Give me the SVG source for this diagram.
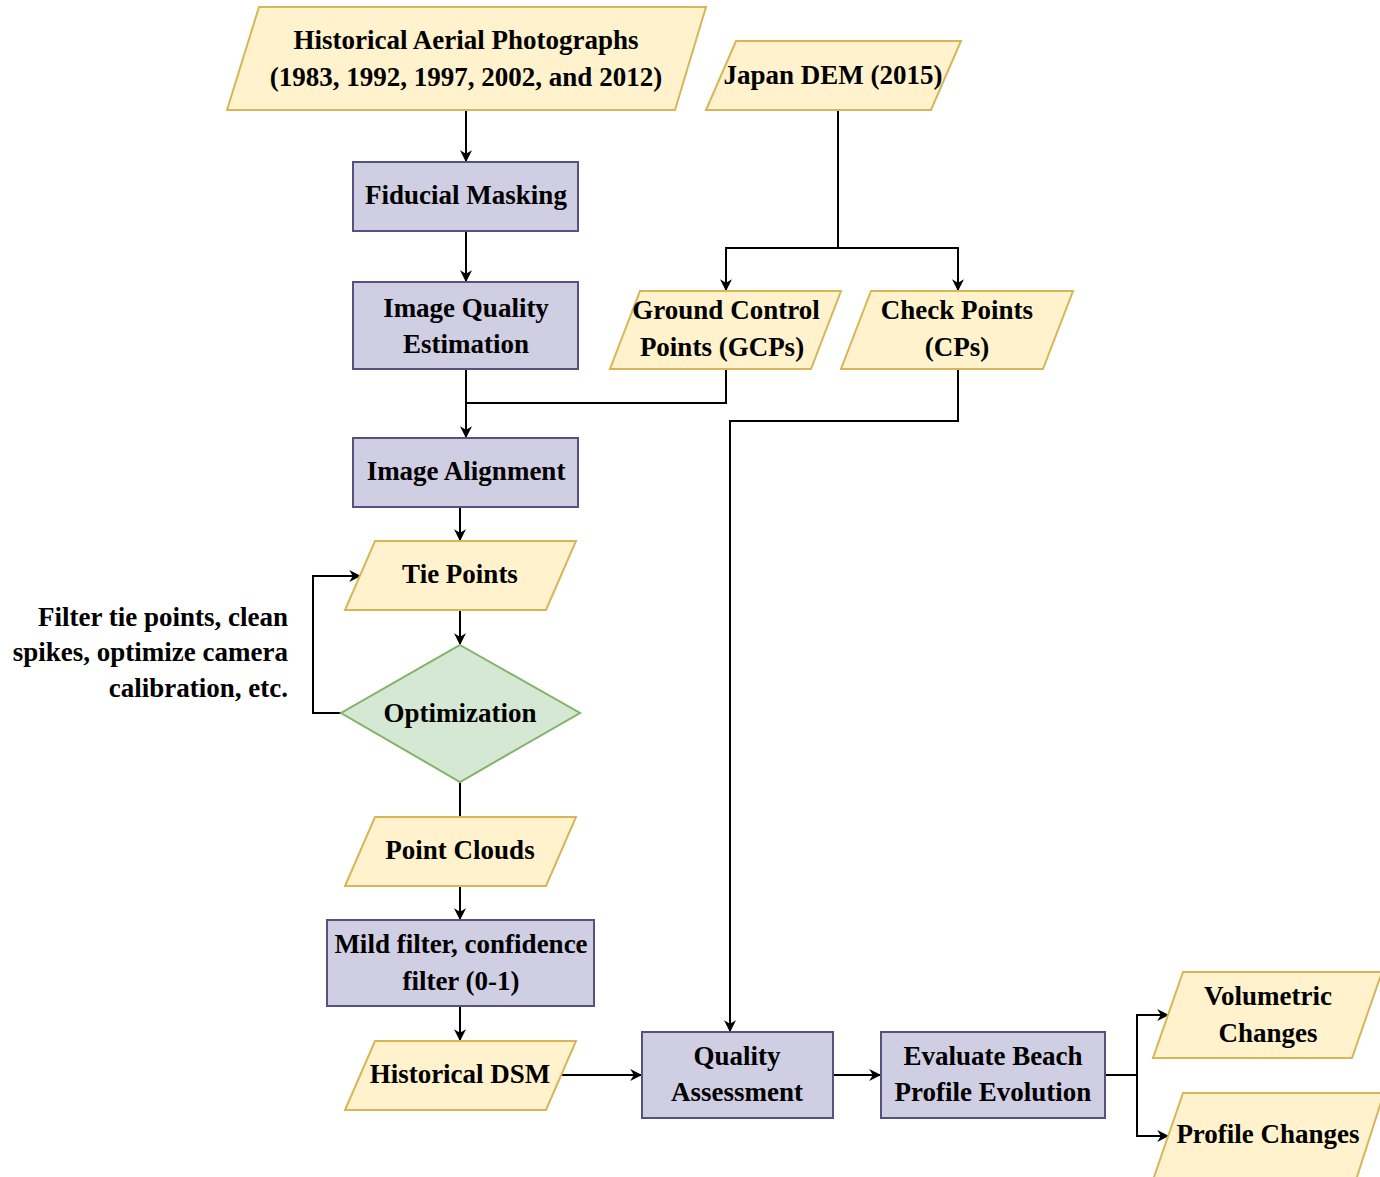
<svg xmlns="http://www.w3.org/2000/svg" width="1380" height="1177" viewBox="0 0 1380 1177">
<style>
.io{fill:#fff2cc;stroke:#d6b656;stroke-width:2}
.pr{fill:#d0cee2;stroke:#56517e;stroke-width:2}
.dc{fill:#d5e8d4;stroke:#82b366;stroke-width:2}
.t{font-family:"Liberation Serif","Times New Roman",serif;font-weight:bold;font-size:27px;fill:#000;text-anchor:middle}
.tr{text-anchor:end}
.c{fill:none;stroke:#000;stroke-width:2}
</style>
<defs>
<marker id="ah" viewBox="0 0 10 10" refX="9" refY="5" markerWidth="12" markerHeight="12" markerUnits="userSpaceOnUse" orient="auto"><path d="M0,0 L10,5 L0,10 L3,5 Z" fill="#000"/></marker>
</defs>
<rect width="1380" height="1177" fill="#fff"/>
<g id="connectors">
<path class="c" d="M466,110 V161" marker-end="url(#ah)"/>
<path class="c" d="M466,231 V281" marker-end="url(#ah)"/>
<path class="c" d="M466,369 V437" marker-end="url(#ah)"/>
<path class="c" d="M726,369 V403 H466"/>
<path class="c" d="M838,110 V248 H726 V290" marker-end="url(#ah)"/>
<path class="c" d="M838,248 H958 V290" marker-end="url(#ah)"/>
<path class="c" d="M958,369 V421 H730 V1031" marker-end="url(#ah)"/>
<path class="c" d="M460,507 V540" marker-end="url(#ah)"/>
<path class="c" d="M460,610 V644" marker-end="url(#ah)"/>
<path class="c" d="M341,713 H313 V576 H360" marker-end="url(#ah)"/>
<path class="c" d="M460,782 V817"/>
<path class="c" d="M460,886 V919" marker-end="url(#ah)"/>
<path class="c" d="M460,1006 V1040" marker-end="url(#ah)"/>
<path class="c" d="M561,1075 H641" marker-end="url(#ah)"/>
<path class="c" d="M833,1075 H880" marker-end="url(#ah)"/>
<path class="c" d="M1105,1075 H1137 V1015 H1168" marker-end="url(#ah)"/>
<path class="c" d="M1137,1075 V1136 H1168" marker-end="url(#ah)"/>
</g>
<g id="historical-aerial">
<polygon class="io" points="259,7 706,7 675,110 227,110"/>
<text class="t" x="466" y="49">Historical Aerial Photographs</text>
<text class="t" x="466" y="86">(1983, 1992, 1997, 2002, and 2012)</text>
</g>
<g id="japan-dem">
<polygon class="io" points="736,41 961,41 931,110 706,110"/>
<text class="t" x="833" y="84">Japan DEM (2015)</text>
</g>
<g id="fiducial-masking">
<rect class="pr" x="353" y="162" width="225" height="69"/>
<text class="t" x="466" y="204">Fiducial Masking</text>
</g>
<g id="image-quality">
<rect class="pr" x="353" y="282" width="225" height="87"/>
<text class="t" x="466" y="317">Image Quality</text>
<text class="t" x="466" y="353">Estimation</text>
</g>
<g id="gcps">
<polygon class="io" points="640,291 841,291 811,369 610,369"/>
<text class="t" x="726" y="319">Ground Control</text>
<text class="t" x="722" y="356">Points (GCPs)</text>
</g>
<g id="cps">
<polygon class="io" points="871,291 1073,291 1043,369 841,369"/>
<text class="t" x="957" y="319">Check Points</text>
<text class="t" x="957" y="356">(CPs)</text>
</g>
<g id="image-alignment">
<rect class="pr" x="353" y="438" width="225" height="69"/>
<text class="t" x="466" y="480">Image Alignment</text>
</g>
<g id="tie-points">
<polygon class="io" points="375,541 576,541 546,610 345,610"/>
<text class="t" x="460" y="583">Tie Points</text>
</g>
<g id="optimization">
<polygon class="dc" points="460,645 580,713 460,782 341,713"/>
<text class="t" x="460" y="722">Optimization</text>
</g>
<g id="optimization-label">
<text class="t tr" x="288" y="626">Filter tie points, clean</text>
<text class="t tr" x="288" y="661">spikes, optimize camera</text>
<text class="t tr" x="288" y="697">calibration, etc.</text>
</g>
<g id="point-clouds">
<polygon class="io" points="375,817 576,817 546,886 345,886"/>
<text class="t" x="460" y="859">Point Clouds</text>
</g>
<g id="mild-filter">
<rect class="pr" x="327" y="920" width="267" height="86"/>
<text class="t" x="461" y="953">Mild filter, confidence</text>
<text class="t" x="461" y="990">filter (0-1)</text>
</g>
<g id="historical-dsm">
<polygon class="io" points="375,1041 576,1041 546,1110 345,1110"/>
<text class="t" x="460" y="1083">Historical DSM</text>
</g>
<g id="quality-assessment">
<rect class="pr" x="642" y="1032" width="191" height="86"/>
<text class="t" x="737" y="1065">Quality</text>
<text class="t" x="737" y="1101">Assessment</text>
</g>
<g id="evaluate-beach">
<rect class="pr" x="881" y="1032" width="224" height="86"/>
<text class="t" x="993" y="1065">Evaluate Beach</text>
<text class="t" x="993" y="1101">Profile Evolution</text>
</g>
<g id="volumetric-changes">
<polygon class="io" points="1183,972 1382,972 1352,1058 1153,1058"/>
<text class="t" x="1268" y="1005">Volumetric</text>
<text class="t" x="1268" y="1042">Changes</text>
</g>
<g id="profile-changes">
<polygon class="io" points="1183,1093 1384,1093 1356,1180 1153,1180"/>
<text class="t" x="1268" y="1143">Profile Changes</text>
</g>
</svg>
